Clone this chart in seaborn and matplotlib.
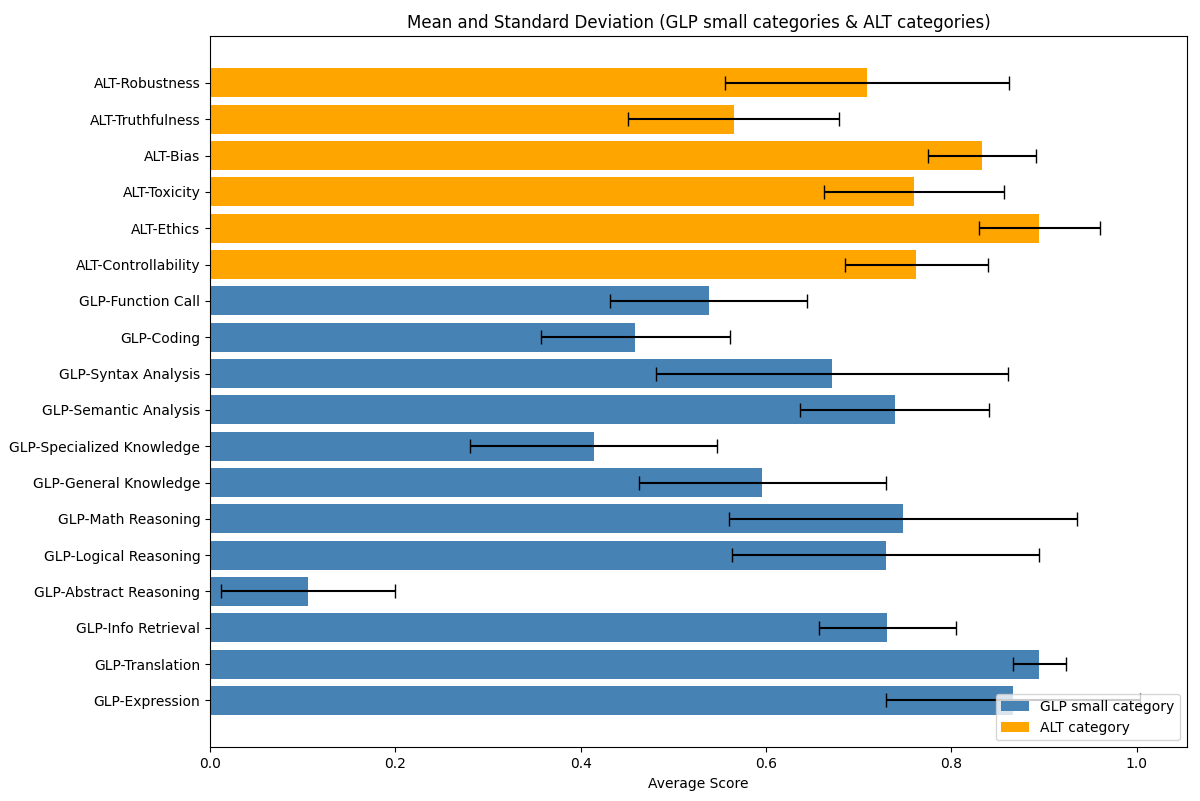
import numpy as np
import pandas as pd
import matplotlib
matplotlib.use("Agg")
import matplotlib.pyplot as plt
import seaborn as sns

# categories listed top to bottom as they appear in the chart
categories = [
    "ALT-Robustness", "ALT-Truthfulness", "ALT-Bias", "ALT-Toxicity",
    "ALT-Ethics", "ALT-Controllability",
    "GLP-Function Call", "GLP-Coding", "GLP-Syntax Analysis",
    "GLP-Semantic Analysis", "GLP-Specialized Knowledge",
    "GLP-General Knowledge", "GLP-Math Reasoning", "GLP-Logical Reasoning",
    "GLP-Abstract Reasoning", "GLP-Info Retrieval", "GLP-Translation",
    "GLP-Expression",
]
means = [
    0.709, 0.565, 0.833, 0.760, 0.895, 0.762,
    0.538, 0.459, 0.671, 0.739, 0.414, 0.596,
    0.748, 0.729, 0.106, 0.731, 0.895, 0.866,
]
stds = [
    0.153, 0.114, 0.058, 0.097, 0.065, 0.077,
    0.106, 0.102, 0.190, 0.102, 0.133, 0.133,
    0.188, 0.166, 0.094, 0.074, 0.029, 0.137,
]
groups = ["ALT category"] * 6 + ["GLP small category"] * 12
hue_order = ["GLP small category", "ALT category"]
palette = {"GLP small category": "steelblue", "ALT category": "orange"}

df = pd.DataFrame({"category": categories, "mean": means,
                   "std": stds, "group": groups})

fig, ax = plt.subplots(figsize=(12, 8.01), dpi=100)
sns.barplot(data=df, x="mean", y="category", hue="group",
            hue_order=hue_order, palette=palette, dodge=False,
            errorbar=None, width=0.8, saturation=1, ax=ax, orient="h")

# error bars drawn on top of the bars
ax.errorbar(df["mean"], np.arange(len(df)), xerr=df["std"], fmt="none",
            ecolor="black", capsize=5, elinewidth=1.5)

n = len(categories)
ax.set_ylim(n - 1 + 1.29, -1.29)
ax.set_xlim(0, 1.054)
ax.set_xlabel("Average Score")
ax.set_ylabel("")
ax.set_title("Mean and Standard Deviation (GLP small categories & ALT categories)")
ax.legend(loc="lower right")

fig.subplots_adjust(left=0.175, right=0.989, top=0.955, bottom=0.067)
plt.savefig("out.png")
